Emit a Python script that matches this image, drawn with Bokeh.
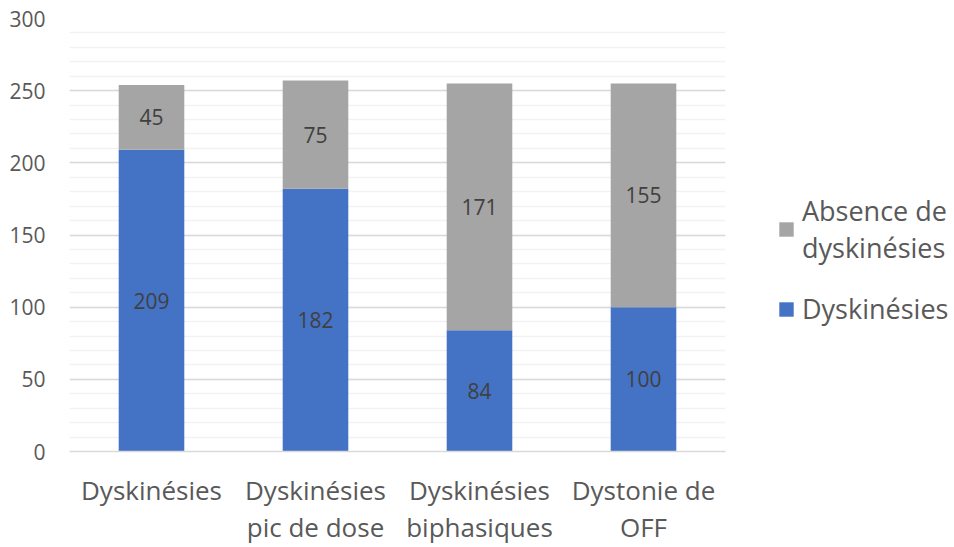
from bokeh.plotting import figure
from bokeh.models import ColumnDataSource, Legend, LegendItem, FixedTicker, LabelSet
from bokeh.core.properties import value
from bokeh.embed import file_html
from bokeh.resources import INLINE

categories = ["Dyskinésies", "Dyskinésies\npic de dose", "Dyskinésies\nbiphasiques", "Dystonie de\nOFF"]
dysk = [209, 182, 84, 100]
absence = [45, 75, 171, 155]
y_ticks = [0, 50, 100, 150, 200, 250, 300]

FONT = "Open Sans"
BLUE = "#4472C4"
GRAY = "#A5A5A5"

src = ColumnDataSource(dict(
    cat=categories,
    dysk=dysk,
    absence=absence,
    dysk_mid=[d / 2 for d in dysk],
    abs_mid=[d + a / 2 for d, a in zip(dysk, absence)],
    dysk_txt=[str(v) for v in dysk],
    abs_txt=[str(v) for v in absence],
))

p = figure(x_range=categories, y_range=(0, 300), frame_width=656, frame_height=433,
           output_backend="svg", toolbar_location=None,
           min_border_left=69, min_border_top=18, min_border_right=0, min_border_bottom=0)
p.outline_line_color = None
p.background_fill_color = "white"

r = p.vbar_stack(["dysk", "absence"], x="cat", width=0.4, source=src,
                 color=[BLUE, GRAY], line_color=None)

for col, ycol in (("dysk_txt", "dysk_mid"), ("abs_txt", "abs_mid")):
    ls = LabelSet(x="cat", y=ycol, text=col, source=src, text_align="center",
                  text_baseline="middle", text_font=value(FONT), text_font_size=value("21px"),
                  text_color="#404040")
    p.add_layout(ls)

p.yaxis.ticker = FixedTicker(ticks=y_ticks, minor_ticks=list(range(0, 301, 10)))
p.ygrid.grid_line_color = "#D9D9D9"
p.ygrid.grid_line_width = 1.5
p.ygrid.minor_grid_line_color = "#F2F2F2"
p.ygrid.minor_grid_line_width = 1.5
p.xgrid.grid_line_color = None

p.yaxis.axis_line_color = None
p.yaxis.major_tick_line_color = None
p.yaxis.minor_tick_line_color = None
p.yaxis.major_label_text_font = FONT
p.yaxis.major_label_text_font_size = "21px"
p.yaxis.major_label_text_color = "#595959"
p.yaxis.major_label_standoff = 18

p.xaxis.axis_line_color = "#D9D9D9"
p.xaxis.axis_line_width = 1.5
p.xaxis.major_tick_line_color = None
p.xaxis.minor_tick_line_color = None
p.xaxis.major_label_text_font = FONT
p.xaxis.major_label_text_font_size = "26px"
p.xaxis.major_label_text_color = "#595959"
p.xaxis.major_label_text_line_height = 1.045
p.xaxis.major_label_standoff = 14

legend = Legend(items=[LegendItem(label="Absence de\ndyskinésies", renderers=[r[1]]),
                       LegendItem(label="Dyskinésies", renderers=[r[0]])],
                location=(52, 124), orientation="vertical")
legend.label_text_font = FONT
legend.label_text_font_size = "27px"
legend.label_text_color = "#595959"
legend.label_text_line_height = 1.0
legend.glyph_width = 18
legend.glyph_height = 18
legend.label_standoff = 7
legend.spacing = 24
legend.padding = 0
legend.margin = 26
legend.border_line_color = None
legend.background_fill_alpha = 0
p.add_layout(legend, "right")

open("out.html", "w").write(file_html(p, INLINE))
